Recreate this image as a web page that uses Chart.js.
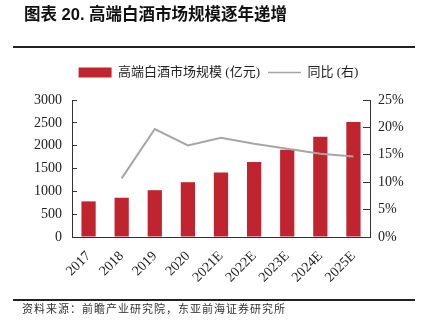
<!DOCTYPE html>
<html>
<head>
<meta charset="utf-8">
<script src="https://cdn.jsdelivr.net/npm/chart.js@4"></script>
<style>
  html, body { margin: 0; padding: 0; background: #fff; }
  #wrap { width: 423px; height: 329px; position: relative; }
</style>
</head>
<body>
<div id="wrap"><canvas id="myChart" width="423" height="329"></canvas></div>
<script>
const labels = ["2017", "2018", "2019", "2020", "2021E", "2022E", "2023E", "2024E", "2025E"];

// 市场规模 (亿元)
const marketSize = [780, 860, 1025, 1200, 1413, 1640, 1910, 2195, 2517];

// 同比 (%), 2017 has no value
const yoy = [null, 10.7, 19.7, 16.7, 18.1, 17.0, 16.1, 15.2, 14.7];

const leftTicks = [0, 500, 1000, 1500, 2000, 2500, 3000];
const rightTicks = [0, 5, 10, 15, 20, 25];

const titleText = "图表 20. 高端白酒市场规模逐年递增";
const sourceText = "资料来源：前瞻产业研究院，东亚前海证券研究所";

const serif = "'Liberation Serif', 'Noto Sans CJK SC', serif";
const axisColor = "#333";

// header / footer text and rules
const frame = {
  id: "frame",
  afterDraw(chart) {
    const ctx = chart.ctx;
    ctx.save();
    ctx.fillStyle = "#111";
    ctx.font = "bold 16.5px 'Liberation Sans', 'Noto Sans CJK SC', sans-serif";
    ctx.textBaseline = "middle";
    ctx.fillText(titleText, 24, 15);
    ctx.fillStyle = "#222";
    ctx.fillRect(13, 46, 402, 2);
    ctx.fillRect(13, 299, 402, 2);
    ctx.font = "11px 'Noto Sans CJK SC', sans-serif";
    ctx.letterSpacing = "1px";
    ctx.fillStyle = "#333";
    ctx.fillText(sourceText, 22, 309);
    ctx.restore();
  }
};

// extra room between the legend and the plot
const legendGap = {
  id: "legendGap",
  beforeInit(chart) {
    const fit = chart.legend.fit;
    chart.legend.fit = function () {
      fit.call(this);
      this.height += 11;
    };
  }
};

const data = {
  labels: labels,
  datasets: [
    {
      type: "bar",
      label: "高端白酒市场规模 (亿元)",
      backgroundColor: "#C0252F",
      borderWidth: 0,
      data: marketSize,
      yAxisID: "y",
      barPercentage: 0.43,
      categoryPercentage: 1,
      order: 1
    },
    {
      type: "line",
      label: "同比 (右)",
      borderColor: "#A6A6A6",
      borderWidth: 2,
      pointRadius: 0,
      tension: 0,
      data: yoy,
      yAxisID: "y1",
      order: 0
    }
  ]
};

const config = {
  data: data,
  options: {
    responsive: false,
    animation: false,
    layout: { padding: { top: 58, left: 14, right: 0, bottom: 30 } },
    plugins: {
      tooltip: { enabled: false },
      legend: {
        position: "top",
        labels: {
          usePointStyle: true,
          pointStyleWidth: 33,
          boxHeight: 10,
          padding: 8,
          color: "#222",
          font: { family: serif, size: 13 },
          sort: (a, b) => a.datasetIndex - b.datasetIndex,
          generateLabels: chart => chart.data.datasets.map((ds, i) => ({
            text: ds.label,
            datasetIndex: i,
            fillStyle: ds.type === "line" ? ds.borderColor : ds.backgroundColor,
            strokeStyle: ds.type === "line" ? ds.borderColor : ds.backgroundColor,
            lineWidth: ds.type === "line" ? 1.5 : 0,
            pointStyle: ds.type === "line" ? "line" : "rect",
            hidden: false,
            fontColor: "#222"
          }))
        }
      }
    },
    scales: {
      x: {
        afterFit: s => { s.height = 62; },
        grid: { display: false, drawTicks: false },
        border: { color: axisColor, width: 1 },
        ticks: {
          maxRotation: 45,
          minRotation: 45,
          padding: 11,
          color: "#222",
          font: { family: serif, size: 14 }
        }
      },
      y: {
        position: "left",
        min: 0,
        max: 3000,
        afterFit: s => { s.width = 58; },
        afterBuildTicks: s => { s.ticks = leftTicks.map(v => ({ value: v })); },
        grid: { drawOnChartArea: false, tickLength: -5, color: axisColor },
        border: { color: axisColor, width: 1 },
        ticks: {
          padding: 15,
          color: "#222",
          font: { family: serif, size: 14 },
          callback: v => String(v)
        }
      },
      y1: {
        position: "right",
        min: 0,
        max: 25,
        afterFit: s => { s.width = 53; },
        afterBuildTicks: s => { s.ticks = rightTicks.map(v => ({ value: v })); },
        grid: { drawOnChartArea: false, tickLength: -7, color: axisColor },
        border: { color: axisColor, width: 1 },
        ticks: {
          padding: 15,
          color: "#222",
          font: { family: serif, size: 14 },
          callback: v => v + "%"
        }
      }
    }
  },
  plugins: [legendGap, frame]
};

const myChart = new Chart(document.getElementById("myChart"), config);
</script>
</body>
</html>
